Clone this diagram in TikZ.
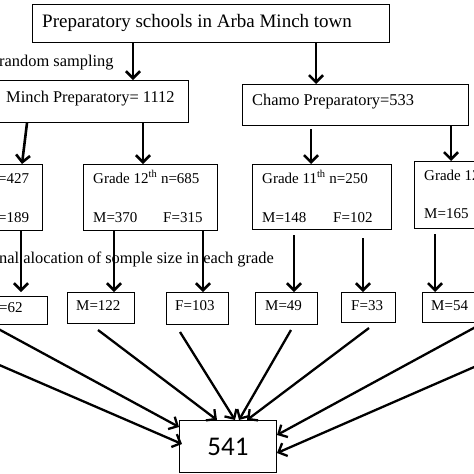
\documentclass[tikz,border=0pt]{standalone}
\usepackage{fontspec}
\setmainfont{Liberation Serif}
\newfontfamily\carlito{Carlito}
\usetikzlibrary{arrows.meta}
\newcommand\fsA{\fontsize{19}{21}\selectfont}
\newcommand\fsB{\fontsize{16.4}{18}\selectfont}
\newcommand\fsC{\fontsize{15}{17}\selectfont}
\tikzset{box/.style={draw, line width=1pt, anchor=north west, inner sep=0pt},
 txt/.style={anchor=base west, inner sep=0pt},
 flow/.style={line width=2.6pt, -{Straight Barb[length=7pt,width=14pt]}},
 merge/.style={line width=2.3pt, -{Straight Barb[length=7pt,width=14pt]}}}

\begin{document}
\begin{tikzpicture}[x=1pt,y=-1pt]
  \useasboundingbox (0,0) rectangle (474,474);
  \clip (0,0) rectangle (474,474);
  \node[box, minimum width=357pt, minimum height=38pt] (top) at (32,4) {};
  \node[box, minimum width=228pt, minimum height=42pt] (minch) at (-40,80) {};
  \node[box, minimum width=226pt, minimum height=41pt] (chamo) at (242,84) {};
  \node[box, minimum width=102pt, minimum height=66pt] (gA) at (-60,164) {};
  \node[box, minimum width=134pt, minimum height=66pt] (gB) at (83,164) {};
  \node[box, minimum width=139pt, minimum height=65pt] (gC) at (252,164) {};
  \node[box, minimum width=106pt, minimum height=67pt] (gD) at (414,161) {};
  \node[box, minimum width=67pt, minimum height=28pt] (fA) at (-20,296) {};
  \node[box, minimum width=67pt, minimum height=31pt] (mB) at (67,292) {};
  \node[box, minimum width=62pt, minimum height=32pt] (fB) at (166,292) {};
  \node[box, minimum width=62pt, minimum height=32pt] (mC) at (255,292) {};
  \node[box, minimum width=54pt, minimum height=30pt] (fC) at (341,292) {};
  \node[box, minimum width=78pt, minimum height=30pt] (mD) at (422,292) {};
  \node[box, minimum width=97pt, minimum height=52pt, font=\carlito\fontsize{27}{30}\selectfont] (total) at (179,420) {541};
  \coordinate (wfar) at (-40,348);
  \coordinate (efar) at (520,347);

  \node[txt, font=\fsA] (toptxt) at (42,27) {Preparatory schools in Arba Minch town};
  \node[txt, font=\fsB] (srs) at (-1,66) {random sampling};
  \node[txt, font=\fsB] (minchtxt) at (6,102) {Minch Preparatory= 1112};
  \node[txt, font=\fsB] (chamotxt) at (252,105) {Chamo Preparatory=533};
  \node[txt, font=\fsC] (gAn) at (-2,183) {=427};
  \node[txt, font=\fsC] (gAf) at (-2,222) {=189};
  \node[txt, font=\fsC] (gBn) at (93,183) {Grade 12\textsuperscript{th} n=685};
  \node[txt, font=\fsC] (gBm) at (93,222) {M=370};
  \node[txt, font=\fsC] (gBf) at (163,222) {F=315};
  \node[txt, font=\fsC] (gCn) at (262,183) {Grade 11\textsuperscript{th} n=250};
  \node[txt, font=\fsC] (gCm) at (262,222) {M=148};
  \node[txt, font=\fsC] (gCf) at (333,222) {F=102};
  \node[txt, font=\fsC] (gDn) at (424,180) {Grade 12};
  \node[txt, font=\fsC] (gDm) at (424,218) {M=165};
  \node[txt, font=\fsB] (alloc) at (-1,263) {nal alocation of somple size in each grade};
  \node[txt, font=\fsC] (fAt) at (-1,312) {=62};
  \node[txt, font=\fsC] (mBt) at (76,310) {M=122};
  \node[txt, font=\fsC] (fBt) at (175,310) {F=103};
  \node[txt, font=\fsC] (mCt) at (265,310) {M=49};
  \node[txt, font=\fsC] (fCt) at (351,310) {F=33};
  \node[txt, font=\fsC] (mDt) at (431,310) {M=54};

  \draw[flow] (133,0 |- top.south) -- (133,0 |- minch.north);
  \draw[flow] (316,0 |- top.south) -- (316,0 |- chamo.north);
  \draw[flow] (27,0 |- minch.south) -- (22,0 |- gA.north);
  \draw[flow] (143,0 |- minch.south) -- (143,0 |- gB.north);
  \draw[flow] ([yshift=-3pt]311,0 |- chamo.south) -- (311,0 |- gC.north);
  \draw[flow] (451,0 |- chamo.south) -- (451,0 |- gD.north);
  \draw[flow] (21,0 |- gA.south) -- (21,0 |- mB.north);
  \draw[flow] (114,0 |- gB.south) -- (114,0 |- mB.north);
  \draw[flow] (203,0 |- gB.south) -- (203,0 |- fB.north);
  \draw[flow] ([yshift=-5pt]294,0 |- gC.south) -- (294,0 |- mC.north);
  \draw[flow] ([yshift=-8pt]363,0 |- gC.south) -- (363,0 |- fC.north);
  \draw[flow] ([yshift=-5pt]435,0 |- gD.south) -- (435,0 |- mD.north);

  \draw[merge] (-9,0 |- fA.south) -- (total.west |- 0,427);
  \draw[merge] (wfar) -- ([xshift=3pt]total.west |- 0,444);
  \draw[merge] ([yshift=-6pt]98,0 |- mB.south) -- (217,0 |- total.north);
  \draw[merge] ([yshift=-7pt]180,0 |- fB.south) -- (235,0 |- total.north);
  \draw[merge] ([yshift=-5pt]291,0 |- mC.south) -- (239,0 |- total.north);
  \draw[merge] ([yshift=-5pt]369,0 |- fC.south) -- (247,0 |- total.north);
  \draw[merge] (483,0 |- mD.south) -- (total.east |- 0,435);
  \draw[merge] (efar) -- (total.east |- 0,453);
\end{tikzpicture}
\end{document}
